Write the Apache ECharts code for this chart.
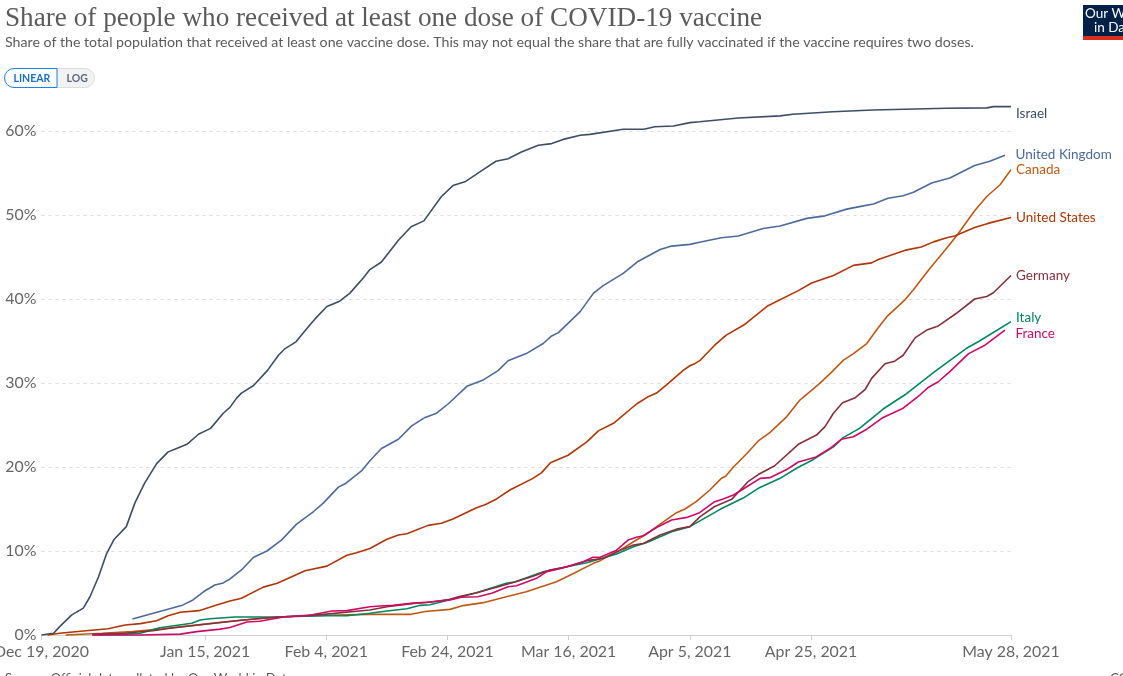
<!DOCTYPE html>
<html><head><meta charset="utf-8">
<script src="https://cdn.jsdelivr.net/npm/echarts@6/dist/echarts.min.js"></script>
<style>html,body{margin:0;padding:0;background:#fff}#c{width:1123px;height:676px}</style>
</head><body><div id="c"></div>
<script>
const titleText = "Share of people who received at least one dose of COVID-19 vaccine";
const subtitleText = "Share of the total population that received at least one vaccine dose. This may not equal the share that are fully vaccinated if the vaccine requires two doses.";
const tickDays = [0, 27, 47, 67, 87, 107, 127, 160];
const tickLabels = ["Dec 19, 2020", "Jan 15, 2021", "Feb 4, 2021", "Feb 24, 2021", "Mar 16, 2021", "Apr 5, 2021", "Apr 25, 2021", "May 28, 2021"];

// [day since Dec 19 2020, share %]
const israel = [[0,0],[2,0.2],[3,1],[5,2.4],[6.9,3.2],[8,4.55],[9.4,6.9],[10.75,9.7],[12,11.4],[14,12.9],[15.4,15.7],[17,18.05],[19,20.4],[20.9,21.8],[22.3,22.2],[24,22.7],[25.9,23.9],[27.9,24.6],[30,26.4],[31.1,27.1],[32.2,28.2],[33,28.8],[35,29.7],[37.3,31.5],[39.1,33.3],[40.2,34.1],[42,34.9],[43.8,36.5],[45.1,37.6],[47.1,39.1],[49.1,39.7],[50.9,40.7],[53.1,42.5],[54.2,43.5],[56.1,44.4],[58.9,47],[61,48.6],[63.1,49.3],[66,52.2],[67.9,53.5],[70,54],[72.9,55.4],[75,56.4],[77,56.7],[79.2,57.5],[82,58.3],[84.2,58.5],[86.1,59],[88.9,59.5],[90.5,59.6],[96,60.2],[99.4,60.2],[101.2,60.5],[104.3,60.6],[107,61],[108.6,61.1],[115,61.55],[121.9,61.8],[124,62],[130.6,62.3],[137.2,62.5],[149.4,62.7],[156,62.75],[157.1,62.9],[160,62.9]];
const unitedKingdom = [[15,1.9],[23.1,3.5],[25,4.17],[27,5.27],[28.6,5.95],[30,6.2],[31.1,6.67],[33,7.74],[35,9.25],[37.2,10],[39.6,11.3],[42.1,13.2],[44.9,14.7],[46.5,15.7],[49,17.6],[50.1,18],[52.9,19.6],[54.2,20.75],[56.1,22.2],[58.9,23.3],[61.1,24.9],[63.3,25.9],[65.2,26.4],[67.1,27.5],[70.2,29.6],[73,30.4],[75.4,31.5],[77,32.65],[80,33.5],[82.8,34.7],[84.2,35.6],[85.3,36],[88.9,38.5],[91.1,40.7],[92.7,41.6],[96,43.05],[98.5,44.5],[102.1,45.9],[104,46.3],[107,46.5],[108.6,46.75],[112.2,47.3],[115,47.5],[119.1,48.4],[121.9,48.7],[126.3,49.6],[129.3,49.9],[132.9,50.7],[135,51],[137.3,51.3],[139.7,52],[142.2,52.3],[143.9,52.7],[146.9,53.8],[149.9,54.4],[154,55.9],[156.5,56.4],[159,57.1]];
const canada = [[4,0],[10,0.2],[15,0.4],[20,0.75],[27,1.3],[33,1.75],[39,2.15],[47,2.35],[54.2,2.46],[61,2.46],[63.3,2.8],[67.4,3.05],[69.6,3.5],[72.9,3.85],[76.7,4.56],[80,5.15],[85,6.35],[87.7,7.3],[91,8.5],[92.2,8.85],[95.5,10.1],[97.7,11.1],[99.6,11.9],[102.1,13.2],[104.8,14.56],[106.2,15],[108.1,15.9],[110.3,17.26],[112.2,18.65],[112.9,18.9],[114.2,20],[116.4,21.6],[118.3,23.1],[120.2,24.1],[123,26],[125.2,28],[128.2,29.8],[130.4,31.3],[132.3,32.7],[134,33.5],[136.2,34.7],[137.8,36.3],[139.5,37.9],[142.5,39.9],[143.9,41.1],[146.4,43.45],[149.1,45.8],[151,47.5],[154,50.5],[156,52.2],[158.2,53.6],[160,55.4]];
const unitedStates = [[1,0],[3,0.2],[6.9,0.48],[11,0.75],[13.8,1.19],[16.3,1.35],[19,1.7],[20.9,2.3],[22.9,2.7],[26,2.9],[28.9,3.57],[31.1,4.05],[33,4.37],[36.6,5.7],[38.9,6.15],[43.5,7.65],[47.1,8.2],[50.4,9.5],[52,9.8],[54.2,10.3],[57,11.4],[58.9,11.9],[60.3,12.06],[63.8,13.05],[66,13.3],[67.9,13.8],[71.8,15.15],[73.2,15.5],[75.1,16.2],[77.3,17.26],[81.1,18.65],[82.5,19.3],[84,20.5],[86.9,21.4],[90,23],[91.9,24.3],[94.4,25.2],[98.2,27.5],[100.2,28.4],[101.5,28.8],[103.2,29.8],[105.9,31.5],[107,32.05],[107.8,32.3],[108.7,32.7],[111.1,34.5],[113,35.7],[115.9,36.9],[119.9,39.2],[124.9,41],[127.1,41.9],[130.7,42.8],[134,44],[137,44.3],[138.1,44.7],[142.8,45.85],[145.2,46.2],[147.2,46.8],[149.4,47.3],[150.7,47.5],[154,48.5],[156.2,49],[160,49.7]];
const germany = [[8.4,0.1],[13.5,0.2],[18.4,0.5],[21.2,0.8],[27.3,1.3],[31.7,1.67],[35.5,1.94],[39.4,2.14],[46.5,2.46],[54.2,2.98],[57,3.37],[61.4,3.77],[64.1,3.9],[67.4,4.25],[68.8,4.56],[71.8,5.04],[75.4,5.75],[78.1,6.3],[81.1,7],[83.9,7.74],[86.7,8.13],[90,8.85],[92.7,9.13],[95.5,10.1],[97.7,10.7],[99.3,10.9],[102.1,11.9],[104.8,12.6],[107,12.9],[108.7,14.1],[111.1,15.3],[113.9,16.15],[116.6,18.25],[118.3,19.1],[121,20.15],[124.9,22.7],[127.9,23.8],[129.3,24.8],[130.7,26.4],[132.2,27.65],[134.2,28.2],[135.9,29.2],[137,30.55],[139.2,32.3],[140.8,32.6],[142.2,33.3],[144.2,35.4],[146.1,36.3],[148,36.8],[151,38.3],[154,40],[156,40.3],[157.1,40.75],[160,42.8]];
const italy = [[8.4,0],[13.5,0.08],[16.3,0.2],[19.5,0.87],[24.8,1.39],[26.2,1.79],[27.8,1.94],[31.9,2.14],[38.2,2.14],[47.1,2.3],[50.4,2.3],[54.2,2.58],[57,2.86],[60.3,3.13],[62.5,3.53],[64.1,3.6],[67.4,4.2],[71.8,5.04],[76.7,6.15],[78.1,6.3],[82.8,7.54],[86.7,8.13],[90,8.6],[94.9,9.64],[97.7,10.5],[99.9,11],[104,12.3],[107,12.9],[112,14.96],[115.8,16.3],[118.3,17.46],[121.9,18.65],[124.6,19.85],[127.4,20.9],[130.7,22.4],[132.3,23.5],[135,24.6],[138.9,26.9],[142.5,28.6],[147.4,31.35],[152.6,34.1],[154.8,35],[160,37.3]];
const france = [[8.4,0],[16.3,0],[22.9,0.1],[25.6,0.4],[29.5,0.7],[31.1,0.9],[33.9,1.55],[36,1.63],[40.2,2.18],[43.8,2.3],[47.9,2.86],[50.4,2.9],[54.2,3.37],[55.8,3.45],[58,3.53],[61.4,3.8],[63.5,3.9],[67.4,4.17],[69.3,4.5],[72,4.56],[74.3,4.96],[77,5.75],[78.4,5.87],[81.7,6.75],[83.4,7.54],[85.9,7.94],[89.4,8.73],[91,9.25],[92.2,9.25],[94.9,10.1],[96.8,11.3],[98.2,11.63],[99.3,11.82],[101.5,12.8],[104,13.7],[106.5,14],[108.6,14.56],[111.1,15.87],[112.5,16.2],[114.2,16.67],[116.4,17.65],[118.6,18.65],[120.2,18.73],[123,19.7],[124.9,20.6],[127.7,21.15],[130.1,22.2],[132,23.3],[134,23.6],[136.2,24.5],[138.9,25.9],[142.2,27],[145,28.6],[146.4,29.5],[148,30.15],[149.9,31.35],[153,33.5],[155.7,34.5],[159,36.3]];

const font = "Lato, 'Noto Sans', sans-serif";
const chart = echarts.init(document.getElementById('c'), null, {renderer:'canvas'});
function line(name, data, color, offset){
  return {
    name, type:'line', data, showSymbol:false, symbol:'none', smooth:false, clip:false,
    lineStyle:{color, width:1.6}, itemStyle:{color}, animation:false, silent:true,
    endLabel:{show:true, formatter:name, color, fontFamily:font, fontSize:13.5, distance:4, offset, align:'left', verticalAlign:'middle'}
  };
}
chart.setOption({
  animation:false,
  backgroundColor:'#fff',
  grid:{left:41.5, right:112, top:131, bottom:41, containLabel:false, outerBoundsMode:'none'},
  xAxis:{
    type:'value', min:0, max:160,
    splitLine:{show:false},
    axisLine:{show:true, onZero:false, lineStyle:{color:'#d0d0d0', width:1}},
    axisTick:{show:true, length:5, customValues:tickDays, lineStyle:{color:'#d0d0d0'}},
    axisLabel:{customValues:tickDays, color:'#666', fontFamily:font, fontSize:15.9, margin:9, hideOverlap:false,
      showMinLabel:true, showMaxLabel:true,
      formatter:v=>tickLabels[tickDays.indexOf(v)]||''}
  },
  yAxis:{
    type:'value', min:0, max:60, interval:10,
    axisLine:{show:false}, axisTick:{show:false},
    splitLine:{show:true, lineStyle:{color:'#dddddd', type:[3,4], width:1}},
    axisLabel:{color:'#666', fontFamily:font, fontSize:15.9, margin:5, formatter:'{value}%'}
  },
  graphic:[
    {type:'text', left:5, top:5.5, style:{text:titleText, fill:'#5b5b5b', fontFamily:"'Liberation Serif', serif", fontSize:27.2}},
    {type:'text', left:5, top:35, style:{text:subtitleText, fill:'#5b5b5b', fontFamily:font, fontSize:14.18}},
    {type:'rect', shape:{x:1083,y:5,width:40,height:35}, style:{fill:'#002147'}},
    {type:'rect', shape:{x:1083,y:36,width:40,height:4}, style:{fill:'#dc2e1c'}},
    {type:'text', x:1085, y:7, style:{text:'Our World', fill:'#fff', fontFamily:font, fontSize:13.5}},
    {type:'text', x:1094, y:21, style:{text:'in Data', fill:'#fff', fontFamily:font, fontSize:13.5}},
    {type:'rect', shape:{x:57,y:68.5,width:37.5,height:19,r:[0,9.5,9.5,0]}, style:{fill:'#f2f2f2',stroke:'#dddddd',lineWidth:1}},
    {type:'rect', shape:{x:4.5,y:68.5,width:52.5,height:19,r:[9.5,0,0,9.5]}, style:{fill:'#fff',stroke:'#1d82e8',lineWidth:1}},
    {type:'text', x:13.5, y:73, style:{text:'LINEAR', fill:'#1d6fcc', fontFamily:font, fontSize:10.5, fontWeight:700}},
    {type:'text', x:66.5, y:73, style:{text:'LOG', fill:'#5b6a80', fontFamily:font, fontSize:10.5, fontWeight:700}},
    {type:'text', x:5, y:672, style:{text:'Source: Official data collated by Our World in Data', fill:'#5b5b5b', fontFamily:font, fontSize:13}},
    {type:'text', x:1110, y:672, style:{text:'CC BY', fill:'#5b5b5b', fontFamily:font, fontSize:13}}
  ],
  series:[
    line('Israel', israel, '#3c4e66', [1,7]),
    line('United Kingdom', unitedKingdom, '#4c6a9c', [6.5,-1]),
    line('Canada', canada, '#be5915', [1,0]),
    line('United States', unitedStates, '#b13507', [1,0]),
    line('Italy', italy, '#00875e', [1,-4]),
    line('Germany', germany, '#883039', [1,0]),
    line('France', france, '#cf0a66', [6.5,4])
  ]
});
</script></body></html>
